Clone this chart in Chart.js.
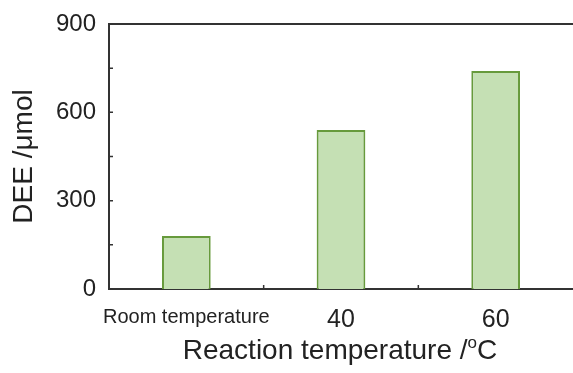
<!DOCTYPE html>
<html lang="en">
<head>
    <meta charset="UTF-8">
    <title>DEE vs reaction temperature</title>
    <script src="https://cdn.jsdelivr.net/npm/chart.js"></script>
    <style>
        html, body { margin: 0; padding: 0; background: #fff; }
        #wrap { width: 573px; height: 373px; }
    </style>
</head>
<body>
    <div id="wrap"><canvas id="deeChart"></canvas></div>

    <script>
        const categories = ['Room temperature', '40', '60'];
        const deeValues = [180, 540, 740];
        const yTicks = [0, 300, 600, 900];

        const fontFamily = '"Liberation Sans", Arial, sans-serif';

        // frame line on top, inward tick marks, x title with superscript
        const framePlugin = {
            id: 'frame',
            afterDraw(chart) {
                const ctx = chart.ctx;
                const area = chart.chartArea;
                const x = chart.scales.x;
                const y = chart.scales.y;
                ctx.save();
                ctx.strokeStyle = '#333';
                ctx.lineWidth = 2;
                ctx.beginPath();
                ctx.moveTo(area.left, area.top);
                ctx.lineTo(chart.width, area.top);
                ctx.stroke();

                ctx.lineWidth = 1.5;
                ctx.beginPath();
                y.ticks.forEach(t => {
                    const py = y.getPixelForValue(t.value);
                    ctx.moveTo(area.left, py);
                    ctx.lineTo(area.left + 4, py);
                });
                for (let i = 1; i < categories.length; i++) {
                    const px = (x.getPixelForTick(i - 1) + x.getPixelForTick(i)) / 2;
                    ctx.moveTo(px, area.bottom);
                    ctx.lineTo(px, area.bottom - 4);
                }
                ctx.stroke();

                // x axis title: "Reaction temperature /ºC"
                const main = 'Reaction temperature /';
                ctx.fillStyle = '#222';
                ctx.textBaseline = 'alphabetic';
                ctx.font = '28px ' + fontFamily;
                const w1 = ctx.measureText(main).width;
                const wC = ctx.measureText('C').width;
                ctx.font = '17px ' + fontFamily;
                const wo = ctx.measureText('o').width;
                const total = w1 + wo + wC;
                const cx = 340;
                let sx = cx - total / 2;
                const base = 359;
                ctx.font = '28px ' + fontFamily;
                ctx.fillText(main, sx, base);
                sx += w1;
                ctx.font = '17px ' + fontFamily;
                ctx.fillText('o', sx, base - 11);
                sx += wo;
                ctx.font = '28px ' + fontFamily;
                ctx.fillText('C', sx, base);
                ctx.restore();
            }
        };

        new Chart(document.getElementById('deeChart'), {
            type: 'bar',
            data: {
                labels: categories,
                datasets: [{
                    label: 'DEE',
                    data: deeValues,
                    backgroundColor: '#c5e0b4',
                    borderColor: '#679a3c',
                    borderWidth: 2,
                    barPercentage: 0.315,
                    categoryPercentage: 1
                }]
            },
            options: {
                responsive: true,
                maintainAspectRatio: false,
                animation: false,
                layout: { padding: { top: 24, right: 0, left: 0, bottom: 0 } },
                plugins: {
                    legend: { display: false },
                    tooltip: { enabled: false }
                },
                scales: {
                    x: {
                        grid: { display: false },
                        border: { color: '#333', width: 2 },
                        ticks: {
                            color: '#222',
                            padding: 8,
                            maxRotation: 0,
                            minRotation: 0,
                            autoSkip: false,
                            font: (c) => c.index === 0
                                ? { family: fontFamily, size: 20 }
                                : { family: fontFamily, size: 25 }
                        },
                        afterFit(scale) { scale.height = 84; }
                    },
                    y: {
                        min: 0,
                        max: 900,
                        afterBuildTicks(scale) {
                            scale.ticks = [0, 150, 300, 450, 600, 750, 900].map(v => ({ value: v }));
                        },
                        grid: { display: false },
                        border: { color: '#333', width: 2 },
                        ticks: {
                            color: '#222',
                            padding: 5,
                            font: { family: fontFamily, size: 24 },
                            callback: (v) => yTicks.includes(v) ? String(v) : ''
                        },
                        title: {
                            display: true,
                            text: 'DEE /μmol',
                            color: '#222',
                            font: { family: fontFamily, size: 28 },
                            padding: { top: 7, bottom: 0 }
                        },
                        afterFit(scale) { scale.width = 109; }
                    }
                }
            },
            plugins: [framePlugin]
        });
    </script>
</body>
</html>
